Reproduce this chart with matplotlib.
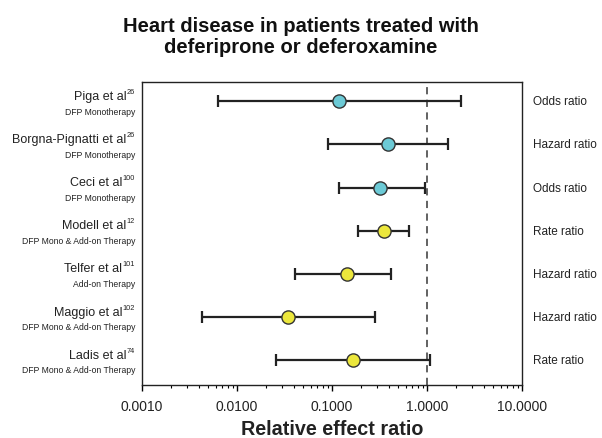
import matplotlib.pyplot as plt
import numpy as np

plt.rcParams['font.family'] = ['Liberation Sans', 'DejaVu Sans']

# Study data
studies = ['Piga et al', 'Borgna-Pignatti et al', 'Ceci et al', 'Modell et al',
           'Telfer et al', 'Maggio et al', 'Ladis et al']
refs = ['26', '26', '100', '12', '101', '102', '74']
therapy = ['DFP Monotherapy', 'DFP Monotherapy', 'DFP Monotherapy',
           'DFP Mono & Add-on Therapy', 'Add-on Therapy',
           'DFP Mono & Add-on Therapy', 'DFP Mono & Add-on Therapy']
measure = ['Odds ratio', 'Hazard ratio', 'Odds ratio', 'Rate ratio',
           'Hazard ratio', 'Hazard ratio', 'Rate ratio']
estimate = [0.119, 0.389, 0.317, 0.349, 0.143, 0.034, 0.165]
ci_low = [0.0063, 0.091, 0.119, 0.188, 0.041, 0.0043, 0.026]
ci_high = [2.28, 1.66, 0.944, 0.651, 0.421, 0.286, 1.08]
group = ['mono', 'mono', 'mono', 'addon', 'addon', 'addon', 'addon']

colors = {'mono': '#6ccad6', 'addon': '#ece73c'}

fig = plt.figure(figsize=(6.02, 4.39), dpi=100)
ax = fig.add_axes([0.236, 0.121, 0.631, 0.690])
renderer = fig.canvas.get_renderer()

y = np.arange(len(studies))
est = np.array(estimate)
lo = np.array(ci_low)
hi = np.array(ci_high)

ax.axvline(1.0, color='#555555', linestyle=(0, (4, 3)), linewidth=1.3, zorder=1)

for i in range(len(studies)):
    ax.errorbar(est[i], y[i], xerr=[[est[i] - lo[i]], [hi[i] - est[i]]],
                fmt='none', ecolor='#222222', elinewidth=1.6, capsize=4.3,
                capthick=1.6, zorder=2)
    ax.plot(est[i], y[i], 'o', markersize=9.5, markerfacecolor=colors[group[i]],
            markeredgecolor='#333333', markeredgewidth=1.0, zorder=3)

    # left labels: study name with superscript reference, therapy below
    sup = ax.annotate(refs[i], xy=(0, y[i]), xycoords=ax.get_yaxis_transform(),
                      xytext=(-5, 7), textcoords='offset points', ha='right',
                      va='center', fontsize=5.3, color='#222222')
    w = sup.get_window_extent(renderer).width * 72 / fig.dpi
    ax.annotate(studies[i], xy=(0, y[i]), xycoords=ax.get_yaxis_transform(),
                xytext=(-5 - w - 0.3, 3.8), textcoords='offset points',
                ha='right', va='center', fontsize=9, color='#222222')
    ax.annotate(therapy[i], xy=(0, y[i]), xycoords=ax.get_yaxis_transform(),
                xytext=(-5, -7.2), textcoords='offset points', ha='right',
                va='center', fontsize=6.2, color='#222222')
    # right labels
    ax.annotate(measure[i], xy=(1, y[i]), xycoords=ax.get_yaxis_transform(),
                xytext=(8, 0), textcoords='offset points', ha='left',
                va='center', fontsize=8.5, color='#222222')

ax.set_xscale('log')
ax.set_xlim(0.001, 10)
ax.set_ylim(6.58, -0.45)
ax.set_yticks([])
ax.set_xticks([0.001, 0.01, 0.1, 1, 10])
ax.set_xticklabels(['0.0010', '0.0100', '0.1000', '1.0000', '10.0000'],
                   fontsize=10, color='#222222')
ax.tick_params(axis='x', which='major', length=4, width=1, pad=6)
ax.tick_params(axis='x', which='minor', length=2.5, width=0.8)

for s in ax.spines.values():
    s.set_linewidth(1.0)
    s.set_color('#222222')

ax.set_xlabel('Relative effect ratio', fontsize=14.2, fontweight='bold',
              color='#222222', labelpad=4.5)
fig.suptitle('Heart disease in patients treated with\ndeferiprone or deferoxamine',
             fontsize=14.5, fontweight='bold', x=0.5, y=0.962, va='top',
             color='#111111', linespacing=1.18)

fig.savefig('out.png', dpi=100)
